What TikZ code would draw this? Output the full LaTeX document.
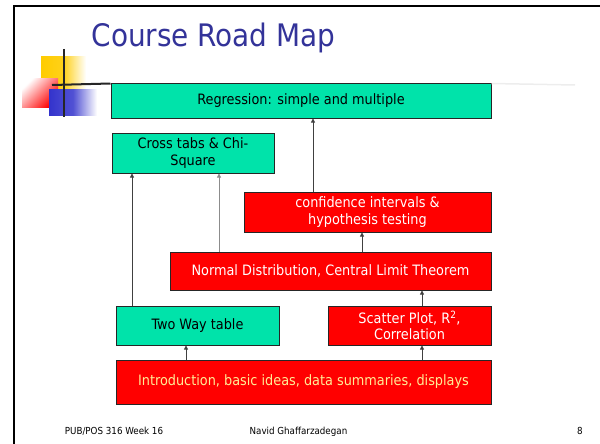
\documentclass[tikz,border=0pt]{standalone}
\usepackage{fontspec}
\setmainfont{DejaVu Sans Condensed}
\usetikzlibrary{arrows.meta}
\definecolor{boxgreen}{RGB}{0,227,170}
\definecolor{boxred}{RGB}{255,0,0}
\definecolor{titleblue}{RGB}{51,51,153}
\definecolor{paleyellow}{RGB}{255,236,150}
\definecolor{logoblue}{RGB}{51,51,204}
\definecolor{logoyellow}{RGB}{255,204,0}
\tikzset{
  topic/.style = {shape=rectangle, draw=black!85, line width=1pt,
                  align=center, inner sep=0pt, font=\fontsize{14.3}{16.5}\selectfont},
  basic/.style = {topic, fill=boxgreen, text=black},
  core/.style  = {topic, fill=boxred, text=white},
  intro/.style = {core, text=paleyellow},
  flow/.style  = {draw=black!75, line width=0.8pt, -{Triangle[width=4pt,length=4pt]}},
  footer/.style = {font=\fontsize{9.7}{12}\selectfont, anchor=base}
}
\begin{document}
\begin{tikzpicture}[x=1pt, y=-1pt]
  \useasboundingbox (0,0) rectangle (600,444);
  % slide frame
  \draw[line width=2pt] (14,444) -- (14,6) -- (600,6);

  % logo
  \shade[left color=logoyellow, right color=white, middle color=logoyellow!90] (41,57) rectangle (86,100);
  \shade[left color=white, right color=boxred, shading angle=45] (22,79) rectangle (58,107);
  \shade[left color=logoblue, right color=white, middle color=logoblue!85] (49,90) rectangle (97,115);
  \draw[line width=2pt, black!85] (64,49) -- (64,117);

  \node[anchor=west, text=titleblue, font=\fontsize{31}{37}\selectfont] (title) at (88,38) {Course Road Map};

  % topics
  \node[basic, minimum width=380pt, minimum height=34pt] (regress) at (301,101) {Regression: simple and multiple};
  \node[basic, minimum width=162pt, minimum height=40pt] (crosstab) at (193,153) {Cross tabs \& Chi-\\Square};
  \node[core,  minimum width=247pt, minimum height=40pt] (confid) at (367.5,212) {confidence intervals \&\\hypothesis testing};
  \node[core,  minimum width=321pt, minimum height=38pt] (normal) at (330.5,271) {Normal Distribution, Central Limit Theorem};
  \node[basic, minimum width=163pt, minimum height=39pt] (twoway) at (197.5,325.5) {Two Way table};
  \node[core,  minimum width=163pt, minimum height=39pt] (scatter) at (409.5,325.5) {Scatter Plot, R\textsuperscript{2},\\Correlation};
  \node[intro, minimum width=375pt, minimum height=44pt] (intro) at (303.5,382) {Introduction, basic ideas, data summaries, displays};

  \draw[line width=2pt, black!85] (52,85) -- (regress.north west);
  \draw[line width=1.5pt, black!7] (regress.north east) -- (575,85);

  % links
  \coordinate (xa) at (186,0);
  \coordinate (xb) at (422,0);
  \coordinate (xc) at (362,0);
  \coordinate (xd) at (313,0);
  \coordinate (xe) at (132,0);
  \coordinate (xf) at (219,0);
  \draw[flow] (intro.north -| xa) -- (twoway.south -| xa);
  \draw[flow] (intro.north -| xb) -- (scatter.south -| xb);
  \draw[flow] (scatter.north -| xb) -- (normal.south -| xb);
  \draw[flow] (normal.north -| xc) -- (confid.south -| xc);
  \draw[flow] (confid.north -| xd) -- (regress.south -| xd);
  \draw[flow] (twoway.north -| xe) -- (crosstab.south -| xe);
  \draw[flow, draw=black!45] (normal.north -| xf) -- (crosstab.south -| xf);

  % footer
  \node[footer] (course) at (114,434) {PUB/POS 316 Week 16};
  \node[footer] (author) at (298.5,434) {Navid Ghaffarzadegan};
  \node[footer] (page) at (580,434) {8};
\end{tikzpicture}
\end{document}
